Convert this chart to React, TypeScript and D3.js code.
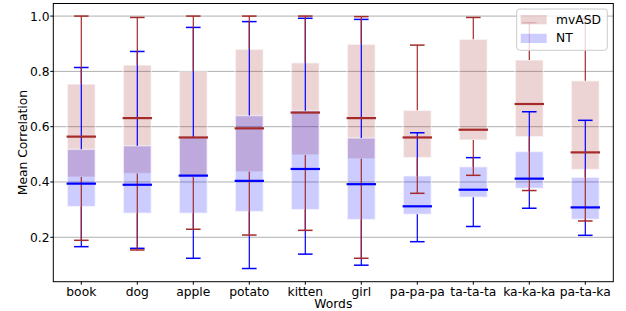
import React from "react";
import * as d3 from "d3";

// Box plot of mean correlation per word, mvASD vs NT
const words = ["book", "dog", "apple", "potato", "kitten", "girl", "pa-pa-pa", "ta-ta-ta", "ka-ka-ka", "pa-ta-ka"];

const mvasdLow = [0.189, 0.154, 0.229, 0.208, 0.225, 0.124, 0.359, 0.424, 0.369, 0.259];
const mvasdQ1 = [0.418, 0.431, 0.418, 0.437, 0.498, 0.484, 0.488, 0.552, 0.564, 0.445];
const mvasdMed = [0.564, 0.631, 0.561, 0.594, 0.651, 0.631, 0.561, 0.589, 0.682, 0.507];
const mvasdQ3 = [0.754, 0.823, 0.8, 0.88, 0.831, 0.898, 0.659, 0.916, 0.841, 0.766];
const mvasdHigh = [1.0, 0.995, 1.0, 1.0, 1.0, 0.998, 0.895, 0.995, 0.976, 0.99];

const ntLow = [0.166, 0.16, 0.124, 0.087, 0.139, 0.099, 0.184, 0.239, 0.305, 0.207];
const ntQ1 = [0.311, 0.287, 0.287, 0.293, 0.3, 0.264, 0.283, 0.345, 0.377, 0.265];
const ntMed = [0.394, 0.39, 0.423, 0.404, 0.447, 0.392, 0.312, 0.372, 0.412, 0.308];
const ntQ3 = [0.518, 0.531, 0.561, 0.64, 0.658, 0.559, 0.422, 0.455, 0.51, 0.417];
const ntHigh = [0.814, 0.872, 0.959, 0.98, 0.992, 0.988, 0.578, 0.488, 0.654, 0.623];

const yTicks = [0.2, 0.4, 0.6, 0.8, 1.0];

const W = 626;
const H = 311;
const left = 53.3;
const right = 613.3;
const top = 3.5;
const bottom = 281.7;
const font = "DejaVu Sans, sans-serif";
const fs = 12.3;

const RED = "#a52a2a";
const BLUE = "#0000ff";

type Series = {
  name: string;
  low: number[];
  q1: number[];
  med: number[];
  q3: number[];
  high: number[];
  color: string;
};

const mvasd: Series = { name: "mvASD", low: mvasdLow, q1: mvasdQ1, med: mvasdMed, q3: mvasdQ3, high: mvasdHigh, color: RED };
const nt: Series = { name: "NT", low: ntLow, q1: ntQ1, med: ntMed, q3: ntQ3, high: ntHigh, color: BLUE };

const App = () => {
  const x = d3.scaleLinear().domain([0.5, words.length + 0.5]).range([left, right]);
  const y = d3.scaleLinear().domain([0.0393, 1.0455]).range([bottom, top]);
  const step = x(2) - x(1);
  const boxW = step * 0.5;
  const capW = step * 0.26;

  const boxes = (s: Series) =>
    words.map((w, i) => (
      <rect
        key={s.name + "box" + w}
        x={x(i + 1) - boxW / 2}
        y={y(s.q3[i])}
        width={boxW}
        height={y(s.q1[i]) - y(s.q3[i])}
        fill={s.color}
        fillOpacity={0.2}
        stroke="#fff"
        strokeOpacity={0.5}
        strokeWidth={1.5}
      />
    ));

  const whiskers = (s: Series) =>
    words.map((w, i) => {
      const cx = x(i + 1);
      return (
        <g key={s.name + "wh" + w} stroke={s.color}>
          <line x1={cx} x2={cx} y1={y(s.q3[i])} y2={y(s.high[i])} strokeWidth={1.2} />
          <line x1={cx} x2={cx} y1={y(s.q1[i])} y2={y(s.low[i])} strokeWidth={1.2} />
          <line x1={cx - capW / 2} x2={cx + capW / 2} y1={y(s.high[i])} y2={y(s.high[i])} strokeWidth={1.5} />
          <line x1={cx - capW / 2} x2={cx + capW / 2} y1={y(s.low[i])} y2={y(s.low[i])} strokeWidth={1.5} />
        </g>
      );
    });

  const medians = (s: Series) =>
    words.map((w, i) => (
      <line
        key={s.name + "med" + w}
        x1={x(i + 1) - boxW / 2 - 0.7}
        x2={x(i + 1) + boxW / 2 + 0.7}
        y1={y(s.med[i])}
        y2={y(s.med[i])}
        stroke={s.color}
        strokeWidth={2.2}
      />
    ));

  const legendItems = [mvasd, nt];

  return (
    <svg width={W} height={H} style={{ position: "absolute", left: 0, top: 0 }} fontFamily={font}>
      <rect width={W} height={H} fill="#fff" />
      {/* grid */}
      {yTicks.map((t) => (
        <line key={"g" + t} x1={left} x2={right} y1={y(t)} y2={y(t)} stroke="#b0b0b0" strokeWidth={1} />
      ))}
      {boxes(mvasd)}
      {boxes(nt)}
      {whiskers(nt)}
      {whiskers(mvasd)}
      {medians(nt)}
      {medians(mvasd)}
      {/* axes frame */}
      <rect x={left} y={top} width={right - left} height={bottom - top} fill="none" stroke="#000" strokeWidth={1} />
      {/* y ticks */}
      {yTicks.map((t) => (
        <g key={"yt" + t}>
          <line x1={left - 3} x2={left} y1={y(t)} y2={y(t)} stroke="#000" strokeWidth={1} />
          <text x={49.5} y={y(t)} dy="0.36em" textAnchor="end" fontSize={fs} fill="#000">
            {d3.format(".1f")(t)}
          </text>
        </g>
      ))}
      {/* x ticks */}
      {words.map((w, i) => (
        <g key={"xt" + w}>
          <line x1={x(i + 1)} x2={x(i + 1)} y1={bottom} y2={bottom + 3} stroke="#000" strokeWidth={1} />
          <text x={x(i + 1)} y={296} textAnchor="middle" fontSize={fs} fill="#000">
            {w}
          </text>
        </g>
      ))}
      <text x={(left + right) / 2} y={308} textAnchor="middle" fontSize={fs} fill="#000">
        Words
      </text>
      <text
        transform={`translate(26.5, ${(top + bottom) / 2}) rotate(-90)`}
        textAnchor="middle"
        fontSize={fs}
        fill="#000"
      >
        Mean Correlation
      </text>
      {/* legend */}
      <rect x={516.7} y={9} width={90.6} height={41.3} rx={3} fill="#fff" fillOpacity={0.8} stroke="#cccccc" strokeWidth={1} />
      {legendItems.map((s, k) => (
        <g key={"lg" + s.name}>
          <rect x={520.7} y={15 + k * 18.7} width={26} height={9.3} fill={s.color} fillOpacity={0.2} />
          <text x={556} y={23.8 + k * 18.6} fontSize={fs} fill="#000">
            {s.name}
          </text>
        </g>
      ))}
    </svg>
  );
};

export default App;
